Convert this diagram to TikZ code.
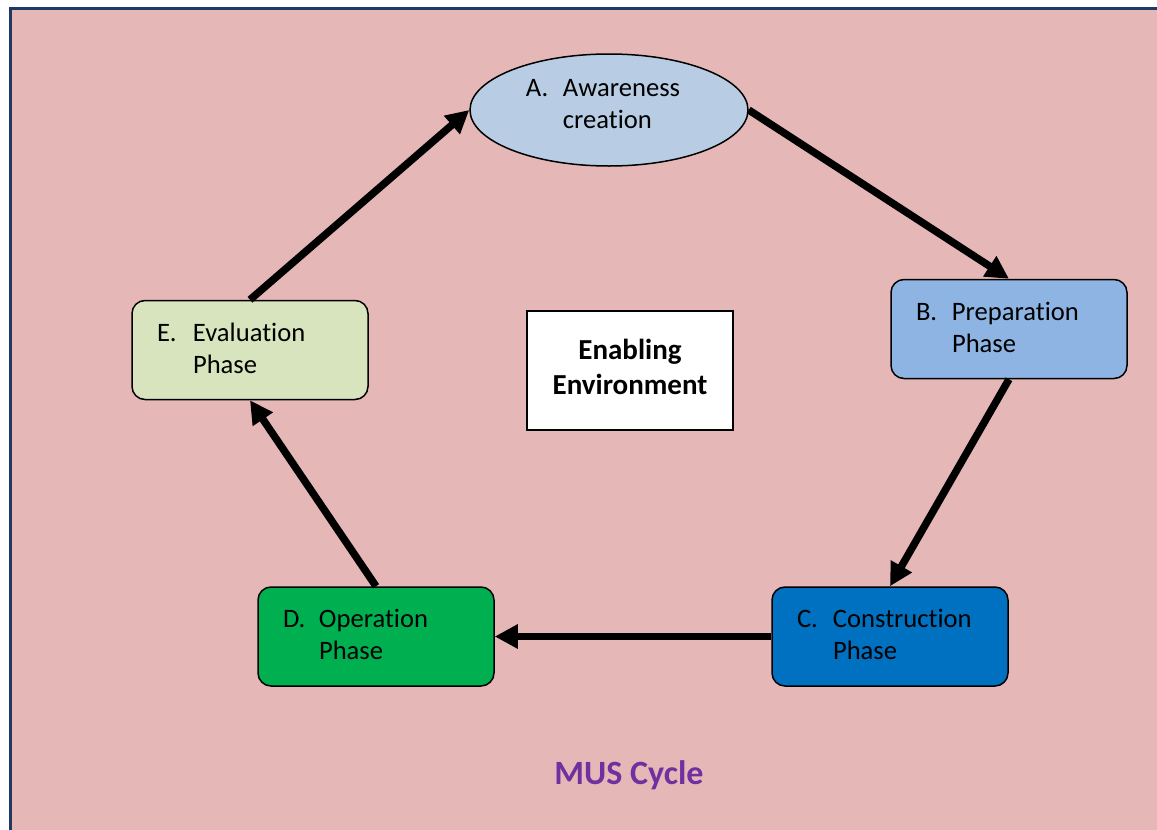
\documentclass[tikz,border=0pt]{standalone}
\usepackage{fontspec}
\setmainfont{Carlito}[Ligatures=NoCommon]
\usetikzlibrary{arrows.meta,shapes.geometric}
\definecolor{bgpink}{HTML}{E5B8B7}
\definecolor{framenavy}{HTML}{1F3864}
\definecolor{acol}{HTML}{B8CCE4}
\definecolor{bcol}{HTML}{8EB4E3}
\definecolor{ccol}{HTML}{0070C0}
\definecolor{dcol}{HTML}{00B050}
\definecolor{ecol}{HTML}{D7E4BD}
\definecolor{muspurple}{HTML}{7030A0}
\tikzset{
  phasebox/.style={draw=black, line width=1.5pt, rounded corners=13pt,
    minimum width=236pt, minimum height=99pt, text width=186pt,
    inner xsep=25pt, align=left, font=\fontsize{26.6}{32}\selectfont},
  flow/.style={line width=7.5pt, -{Triangle[length=23pt,width=23pt]}},
}
\newcommand{\lbl}[1]{\makebox[36pt][l]{#1}}
\begin{document}
\begin{tikzpicture}[x=1pt,y=-1pt]
\useasboundingbox (0,0) rectangle (1157,830);
\clip (0,0) rectangle (1157,830);
\draw[fill=bgpink, draw=framenavy, line width=3pt] (10.5,8.5) rectangle (1175,850);

\node[ellipse, draw=black, line width=1.5pt, fill=acol, minimum width=278pt, minimum height=112pt,
  align=left, inner sep=0pt, font=\fontsize{26.6}{32}\selectfont] (A) at (609,110)
  {\makebox[37pt][l]{A.}Awareness\hspace*{12pt}\\\hspace*{37pt}creation\\[-20pt]\mbox{}};

\node[phasebox, fill=bcol] (B) at (1009,329) {\lbl{B.}Preparation\\\hspace*{36pt}Phase\\[-28pt]\mbox{}};
\node[phasebox, fill=ccol] (C) at (890,636.5) {\lbl{C.}Construction\\\hspace*{36pt}Phase\\[-28pt]\mbox{}};
\node[phasebox, fill=dcol] (D) at (376,636.5) {\lbl{D.}Operation\\\hspace*{36pt}Phase\\[-28pt]\mbox{}};
\node[phasebox, fill=ecol] (E) at (250,350) {\lbl{E.}Evaluation\\\hspace*{36pt}Phase\\[-28pt]\mbox{}};

\node[draw=black, line width=1.5pt, fill=white, minimum width=206pt, minimum height=119pt,
  align=center, font=\bfseries\fontsize{29}{35}\selectfont] (EE) at (630,370.5) {Enabling\\Environment\\[-27pt]\mbox{}};

\node[text=muspurple, font=\bfseries\fontsize{34}{40}\selectfont] (mus) at (629,775) {MUS Cycle};

\draw[flow] (A.east) -- (B.north);
\draw[flow] (B.south) -- (C.north);
\draw[flow] (C.west) -- (D.east);
\draw[flow] (D.north) -- (E.south);
\draw[flow] (E.north) -- (A.west);
\end{tikzpicture}
\end{document}
